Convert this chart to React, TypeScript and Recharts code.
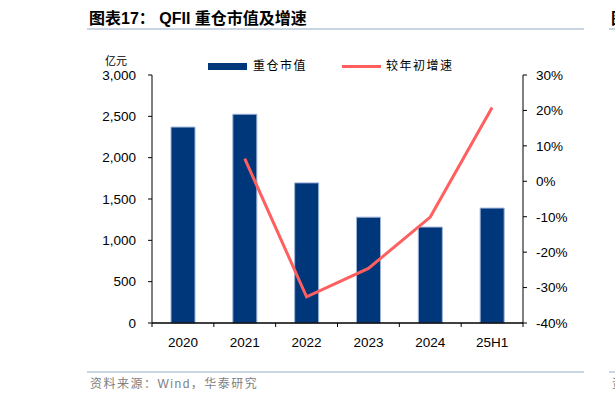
import { ComposedChart, Bar, Line, XAxis, YAxis, ReferenceLine } from "recharts";

const categories = ["2020", "2021", "2022", "2023", "2024", "25H1"];
// QFII heavy-holding market value, 亿元
const holdingValues = [2370, 2525, 1695, 1280, 1160, 1390];
// change versus start of year, %
const growthRates: Array<number | null> = [null, 6.4, -32.6, -24.6, -10.1, 20.8];

const leftTicks = [0, 500, 1000, 1500, 2000, 2500, 3000];
const rightTicks = [-40, -30, -20, -10, 0, 10, 20, 30];

const BAR_COLOR = "#00377A";
const LINE_COLOR = "#FF5F5F";
const RULE_COLOR = "#C9D5E3";
const NUM_FONT = "'Liberation Sans', Arial, sans-serif";
const CJK_FONT = "'Liberation Sans', 'Noto Sans CJK SC', sans-serif";

// gap between the x axis line and the top of its labels
const X_LABEL_GAP = 14;
const X_TICK_LEN = 4;

const data = categories.map((name, i) => ({
  name,
  value: holdingValues[i],
  growth: growthRates[i],
}));

const tickStyle = { fontSize: 13.5, fill: "#000", fontFamily: NUM_FONT };

// category label plus tick marks on the category boundaries
const CategoryTick = (props: any) => {
  const { x, y, width, index, visibleTicksCount, payload } = props;
  const count = visibleTicksCount || categories.length;
  const band = (width || 371) / count;
  const axisY = y - X_LABEL_GAP;
  const left = x - band / 2;
  const right = x + band / 2;
  return (
    <g>
      <line x1={left} x2={left} y1={axisY} y2={axisY + X_TICK_LEN} stroke="#000" />
      {index === count - 1 && (
        <line x1={right} x2={right} y1={axisY} y2={axisY + X_TICK_LEN} stroke="#000" />
      )}
      <text
        x={x}
        y={y}
        dy="0.71em"
        textAnchor="middle"
        fontSize={13.5}
        fontFamily={NUM_FONT}
        fill="#000"
      >
        {payload.value}
      </text>
    </g>
  );
};

const titleStyle = {
  position: "absolute" as const,
  top: 11,
  fontSize: 16,
  lineHeight: "16px",
  fontWeight: 700,
  fontFamily: CJK_FONT,
  color: "#000",
  whiteSpace: "nowrap" as const,
};

const legendText = {
  position: "absolute" as const,
  top: 59,
  fontSize: 12,
  lineHeight: "14px",
  letterSpacing: 1.5,
  fontFamily: CJK_FONT,
  color: "#000",
  whiteSpace: "nowrap" as const,
};

const sourceStyle = {
  position: "absolute" as const,
  top: 377,
  fontSize: 12,
  lineHeight: "14px",
  letterSpacing: 1.5,
  fontFamily: CJK_FONT,
  color: "#808080",
  whiteSpace: "nowrap" as const,
};

const App = () => {
  return (
    <div
      style={{
        position: "absolute",
        left: 0,
        top: 0,
        width: 615,
        height: 403,
        overflow: "hidden",
        background: "#fff",
      }}
    >
      {/* title */}
      <div style={{ ...titleStyle, left: 89 }}>图表17： QFII 重仓市值及增速</div>
      <div style={{ position: "absolute", left: 87, top: 28, width: 497, height: 2, background: RULE_COLOR }} />
      <div style={{ ...titleStyle, left: 611 }}>图表18：</div>
      <div style={{ position: "absolute", left: 609, top: 28, width: 20, height: 2, background: RULE_COLOR }} />

      {/* unit */}
      <div
        style={{
          position: "absolute",
          left: 105,
          top: 55,
          fontSize: 11,
          lineHeight: "12px",
          fontFamily: CJK_FONT,
          color: "#000",
        }}
      >
        亿元
      </div>

      {/* legend */}
      <div style={{ position: "absolute", left: 208, top: 63, width: 39, height: 7, background: BAR_COLOR }} />
      <div style={{ ...legendText, left: 253 }}>重仓市值</div>
      <div style={{ position: "absolute", left: 342, top: 65, width: 39, height: 3, background: LINE_COLOR }} />
      <div style={{ ...legendText, left: 386 }}>较年初增速</div>

      <div style={{ position: "absolute", left: 0, top: 0 }}>
        <ComposedChart
          width={615}
          height={403}
          data={data}
          margin={{ top: 75, right: 32, bottom: 50, left: 92 }}
        >
          <XAxis
            dataKey="name"
            height={30}
            interval={0}
            axisLine={{ stroke: "#000" }}
            tickLine={false}
            tickSize={0}
            tickMargin={X_LABEL_GAP}
            tick={<CategoryTick />}
          />
          <YAxis
            yAxisId="left"
            width={60}
            domain={[0, 3000]}
            ticks={leftTicks}
            interval={0}
            tickSize={4}
            tickMargin={12}
            tick={tickStyle}
            axisLine={{ stroke: "#000" }}
            tickLine={{ stroke: "#000" }}
            tickFormatter={(v: number) => v.toLocaleString("en-US")}
          />
          <YAxis
            yAxisId="right"
            orientation="right"
            width={60}
            domain={[-40, 30]}
            ticks={rightTicks}
            interval={0}
            tickSize={4}
            tickMargin={9}
            tick={tickStyle}
            axisLine={{ stroke: "#000" }}
            tickLine={{ stroke: "#000" }}
            tickFormatter={(v: number) => `${v}%`}
          />
          <Bar
            yAxisId="left"
            dataKey="value"
            barSize={24}
            fill={BAR_COLOR}
            stroke="#9DB3D6"
            strokeWidth={1}
            isAnimationActive={false}
          />
          {/* baseline along the category axis */}
          <ReferenceLine yAxisId="left" y={0} stroke="#000" strokeWidth={1} />
          <Line
            yAxisId="right"
            type="linear"
            dataKey="growth"
            stroke={LINE_COLOR}
            strokeWidth={3}
            dot={false}
            activeDot={false}
            isAnimationActive={false}
          />
        </ComposedChart>
      </div>

      {/* source */}
      <div style={{ position: "absolute", left: 87, top: 371, width: 497, height: 2, background: RULE_COLOR }} />
      <div style={{ ...sourceStyle, left: 90 }}>资料来源：Wind，华泰研究</div>
      <div style={{ position: "absolute", left: 609, top: 371, width: 20, height: 2, background: RULE_COLOR }} />
      <div style={{ ...sourceStyle, left: 612 }}>资料来源</div>
    </div>
  );
};

export default App;
